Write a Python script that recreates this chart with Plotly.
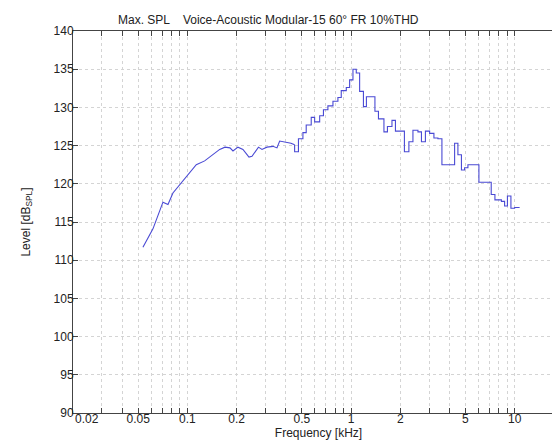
import plotly.graph_objects as go

# Smooth low-frequency part (kHz, dB SPL)
smooth_freq = [0.0535, 0.0616, 0.0709, 0.0761, 0.0816, 0.0940, 0.1133, 0.1275, 0.1393,
               0.1575, 0.1697, 0.1820, 0.1899, 0.2036, 0.2185, 0.2290, 0.2378, 0.2482,
               0.2588, 0.2718, 0.2856, 0.3061, 0.3334, 0.3526, 0.3662, 0.3944, 0.4294, 0.452]
smooth_level = [111.7, 114.1, 117.6, 117.3, 118.8, 120.4, 122.5, 123.0, 123.6,
                124.5, 124.8, 124.7, 124.3, 124.8, 124.5, 123.9, 123.5, 123.6,
                124.2, 124.8, 124.5, 124.8, 124.9, 124.7, 125.6, 125.5, 125.3, 125.1]

# Stepped upper part: each level holds from its frequency to the next one
step_freq = [0.452, 0.452, 0.477, 0.508, 0.532, 0.571, 0.599, 0.643, 0.678, 0.722, 0.775,
             0.831, 0.871, 0.935, 0.980, 1.027, 1.076, 1.128, 1.190, 1.241, 1.399,
             1.470, 1.588, 1.668, 1.778, 1.867, 2.118, 2.256, 2.388, 2.562, 2.692,
             2.846, 3.020, 3.208, 3.394, 3.590, 4.292, 4.496, 4.724, 4.940, 5.176,
             6.042, 7.184, 7.568, 8.290, 8.672, 9.022, 9.478, 9.984, 10.71]
step_level = [125.1, 124.2, 125.9, 126.7, 127.7, 128.7, 128.1, 128.9, 129.7, 130.2, 130.8,
              131.3, 132.2, 132.6, 133.6, 135.0, 134.5, 132.1, 130.1, 131.4, 129.5,
              128.5, 126.8, 127.5, 128.3, 126.9, 124.2, 125.5, 127.0, 126.8, 125.5,
              126.9, 126.6, 126.0, 125.9, 122.5, 125.3, 123.8, 121.8, 122.1, 122.5,
              120.2, 118.6, 117.9, 117.7, 117.1, 118.4, 116.8, 116.9, 116.9]

x_ticks = [0.02, 0.03, 0.04, 0.05, 0.06, 0.07, 0.08, 0.09,
           0.1, 0.2, 0.3, 0.4, 0.5, 0.6, 0.7, 0.8, 0.9,
           1, 2, 3, 4, 5, 6, 7, 8, 9, 10, 20]
x_labels = {0.05: "0.05", 0.1: "0.1", 0.2: "0.2", 0.5: "0.5",
            1: "1", 2: "2", 5: "5", 10: "10", 20: "20"}
y_ticks = [90, 95, 100, 105, 110, 115, 120, 125, 130, 135, 140]

title_text = "Max. SPL    Voice-Acoustic Modular-15 60° FR 10%THD"

line_color = "#4a4ad4"
font_family = "Liberation Sans, Arial, sans-serif"

fig = go.Figure()
fig.add_trace(go.Scatter(x=smooth_freq, y=smooth_level, mode="lines",
                         line=dict(color=line_color, width=1.1), showlegend=False))
fig.add_trace(go.Scatter(x=step_freq, y=step_level, mode="lines",
                         line=dict(color=line_color, width=1.1, shape="hv"), showlegend=False))

fig.update_layout(
    width=560, height=444,
    margin=dict(l=65, r=4, t=23, b=39, autoexpand=False),
    paper_bgcolor="white", plot_bgcolor="white",
    font=dict(family=font_family, size=12, color="#222"),
)

fig.update_xaxes(
    type="log", range=[-1.69897, 1.30103],
    tickvals=x_ticks, ticktext=[x_labels.get(v, "") for v in x_ticks],
    ticks="inside", ticklen=5, tickcolor="#444", tickwidth=0.8,
    ticklabelstandoff=-5, ticklabeloverflow="allow",
    showline=True, linecolor="#444", linewidth=1, mirror="ticks",
    showgrid=True, gridcolor="#d4d4d4", griddash="dot", gridwidth=1,
    zeroline=False, automargin=False,
    title=dict(text="Frequency [kHz]", standoff=0, font=dict(size=12)),
    tickfont=dict(size=12),
)
fig.update_yaxes(
    range=[90, 140], tickvals=y_ticks,
    ticks="inside", ticklen=5, tickcolor="#444", tickwidth=0.8,
    ticklabelstandoff=-4,
    showline=True, linecolor="#444", linewidth=1, mirror="ticks",
    showgrid=True, gridcolor="#d4d4d4", griddash="dot", gridwidth=1,
    zeroline=False, automargin=False,
    title=dict(text="Level [dB<sub>SPL</sub>]", standoff=20, font=dict(size=12)),
    tickfont=dict(size=12),
)

fig.add_annotation(text="0.02", xref="paper", yref="paper", x=0, y=0,
                   xanchor="left", yanchor="top", yshift=3, showarrow=False,
                   font=dict(size=12))
fig.add_annotation(text=title_text, xref="paper", yref="paper", x=0.0876, y=1.028,
                   xanchor="left", yanchor="middle", showarrow=False,
                   font=dict(size=12))

fig.write_html("out.html")
